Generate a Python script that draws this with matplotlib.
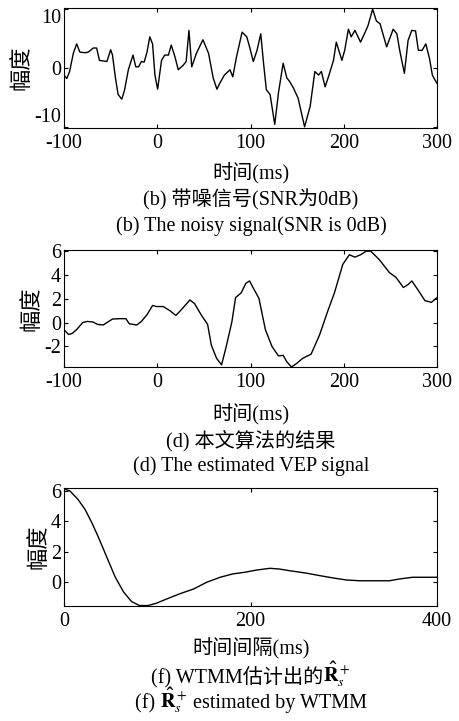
import numpy as np
import matplotlib
matplotlib.use("Agg")
import matplotlib.pyplot as plt

plt.rcParams['font.family'] = ['Liberation Serif', 'Noto Sans CJK SC']
plt.rcParams['mathtext.fontset'] = 'stix'
plt.rcParams['axes.unicode_minus'] = False

# (b) noisy signal
t_noisy = [-100, -97, -94, -90, -86.4, -83, -77.5, -74, -68.6, -65, -62, -58, -54, -50, -48,
           -45, -42, -38, -35, -31, -26, -23, -20, -17, -14, -11, -8, -5, -2.5, 0.4, 4.6, 8,
           12, 15, 19, 22.5, 28, 31, 34, 37, 42, 49, 55, 60, 64, 67, 72, 78, 81, 85, 91, 96,
           99, 103, 107, 111, 114, 117, 121, 126, 130, 135, 139, 142, 146, 151, 158, 164,
           169, 173, 176, 180, 184, 189, 192, 198, 201, 205, 208, 212, 218, 223, 226, 231,
           235, 239, 242, 246, 250, 253, 257, 260, 265, 269, 273, 277, 280, 284, 288, 292,
           295, 297, 300]
y_noisy = [-1.2, -1.8, -0.6, 2.5, 4.1, 2.7, 2.6, 2.7, 3.4, 3.4, 1.3, 1.2, 1.1, 3.1, 2.2,
           -1.5, -4.5, -5.3, -3.7, -0.3, 2.2, 0.2, 0.2, 1.1, 1.0, 2.7, 5.3, 4.1, -1.2, -3.6,
           1.3, 2.2, 2.2, 3.9, 1.9, -0.3, 0.5, 1.1, 6.4, 0.2, 2.5, 4.8, 2.5, -1.7, -3.6, -2.6,
           -1.2, -0.3, -1.5, 1.9, 6.1, 5.3, 3.6, 1.1, 3.0, 5.8, 0.8, -3.7, -4.5, -9.6, -4.2,
           0.8, -1.7, -2.3, -3.4, -5.1, -10.0, -6.5, -0.6, -1.2, -0.6, -3.2, -1.3, 1.3, 4.4,
           1.3, 3.0, 6.6, 5.3, 6.4, 4.4, 6.1, 7.2, 10.0, 8.0, 7.5, 5.8, 3.6, 5.3, 6.6, 5.8,
           3.0, -0.9, 4.7, 6.4, 6.3, 3.0, 3.0, 4.1, 1.6, -1.2, -1.8, -2.6]

# (d) estimated VEP
t_vep = [-100, -95, -91, -86, -80, -75, -69, -64, -58, -54, -48, -40, -33.6, -30, -22, -17,
         -11, -5, -0.7, 6.4, 13.6, 20, 26, 35, 40, 47.5, 54, 58, 63.6, 69, 74, 80, 84, 90,
         95, 99, 103, 109, 116, 123, 130, 135, 139, 144, 150, 156, 165, 174, 183, 190, 199,
         206, 212, 218, 224, 229, 238, 249, 256, 264, 269, 273, 280, 287, 294, 300]
y_vep = [-0.6, -1.0, -0.9, -0.55, 0.0, 0.1, 0.05, -0.15, -0.2, 0.0, 0.3, 0.33, 0.33, -0.1,
         -0.2, 0.1, 0.66, 1.44, 1.35, 1.35, 1.0, 0.6, 1.1, 1.9, 1.6, 0.6, -0.15, -1.9, -3.0,
         -3.55, -2.0, 0.05, 2.1, 2.5, 3.3, 3.5, 2.9, 2.05, -0.6, -2.0, -2.8, -2.75, -3.3,
         -3.73, -3.4, -3.0, -2.65, -1.05, 1.0, 2.5, 4.9, 5.7, 5.5, 5.7, 6.0, 6.0, 5.3, 4.2,
         3.8, 2.95, 3.2, 3.5, 2.7, 1.85, 1.7, 2.1]

# (f) WTMM estimate
lag = [0, 6.4, 15, 22.5, 30, 37, 46, 55, 64, 72.5, 81, 90, 99, 110, 124, 139, 153, 167.5,
       181, 194, 206, 221, 231, 242, 260, 274, 289, 303, 317, 331, 349, 360, 374, 400]
r_hat = [6.15, 6.0, 5.45, 4.8, 3.9, 2.95, 1.64, 0.33, -0.65, -1.27, -1.53, -1.53, -1.38,
         -1.1, -0.76, -0.44, 0.0, 0.33, 0.55, 0.66, 0.8, 0.92, 0.87, 0.76, 0.6, 0.44, 0.28,
         0.15, 0.1, 0.1, 0.1, 0.22, 0.33, 0.33]

W, H = 459, 721
FS = 14.5
R_HAT = r'$\mathbf{\hat{R}}_s^+$'
fig = plt.figure(figsize=(W / 100, H / 100), dpi=100)


def add_panel(top, bottom, x, y, xlim, ylim, xticks, yticks):
    ax = fig.add_axes([64 / W, 1 - bottom / H, (437 - 64) / W, (bottom - top) / H])
    ax.plot(x, y, color='black', lw=1.0)
    ax.set_xlim(xlim)
    ax.set_ylim(ylim)
    ax.set_xticks(xticks)
    ax.set_yticks(yticks)
    ax.tick_params(direction='in', top=True, right=True, length=3, width=0.8,
                   labelsize=FS, pad=2)
    ax.tick_params(axis='x', pad=4)
    for s in ax.spines.values():
        s.set_linewidth(0.8)
    ax.set_ylabel('幅度', fontsize=16, labelpad=1)
    return ax


renderer = fig.canvas.get_renderer()


def caption(ypx, parts):
    # parts are laid out left to right, then centred under the axes
    texts = [fig.text(0, 1 - ypx / H, p, ha='left', va='baseline', fontsize=FS)
             for p in parts]
    widths = [t.get_window_extent(renderer).width for t in texts]
    x = 251 - sum(widths) / 2
    for t, w in zip(texts, widths):
        t.set_x(x / W)
        x += w


ax1 = add_panel(8, 128, t_noisy, y_noisy, (-100, 300), (-10.2, 10.2),
                [-100, 0, 100, 200, 300], [-10, 0, 10])
ylabs = ax1.get_yticklabels()
ylabs[0].set_va('bottom')
ylabs[-1].set_va('top')
caption(179, ['时间(ms)'])
caption(205, ['(b) 带噪信号(SNR为0dB)'])
caption(231, ['(b) The noisy signal(SNR is 0dB)'])

add_panel(250, 367, t_vep, y_vep, (-100, 300), (-3.73, 6.1),
          [-100, 0, 100, 200, 300], [-2, 0, 2, 4, 6])
caption(420, ['时间(ms)'])
caption(446, ['(d) 本文算法的结果'])
caption(471, ['(d) The estimated VEP signal'])

add_panel(488, 606, lag, r_hat, (0, 400), (-1.56, 6.2),
          [0, 200, 400], [0, 2, 4, 6])
caption(654, ['时间间隔(ms)'])
caption(682, ['(f) WTMM估计出的', R_HAT])
caption(708, ['(f) ', R_HAT, ' estimated by WTMM'])

fig.savefig('out.png', dpi=100)
